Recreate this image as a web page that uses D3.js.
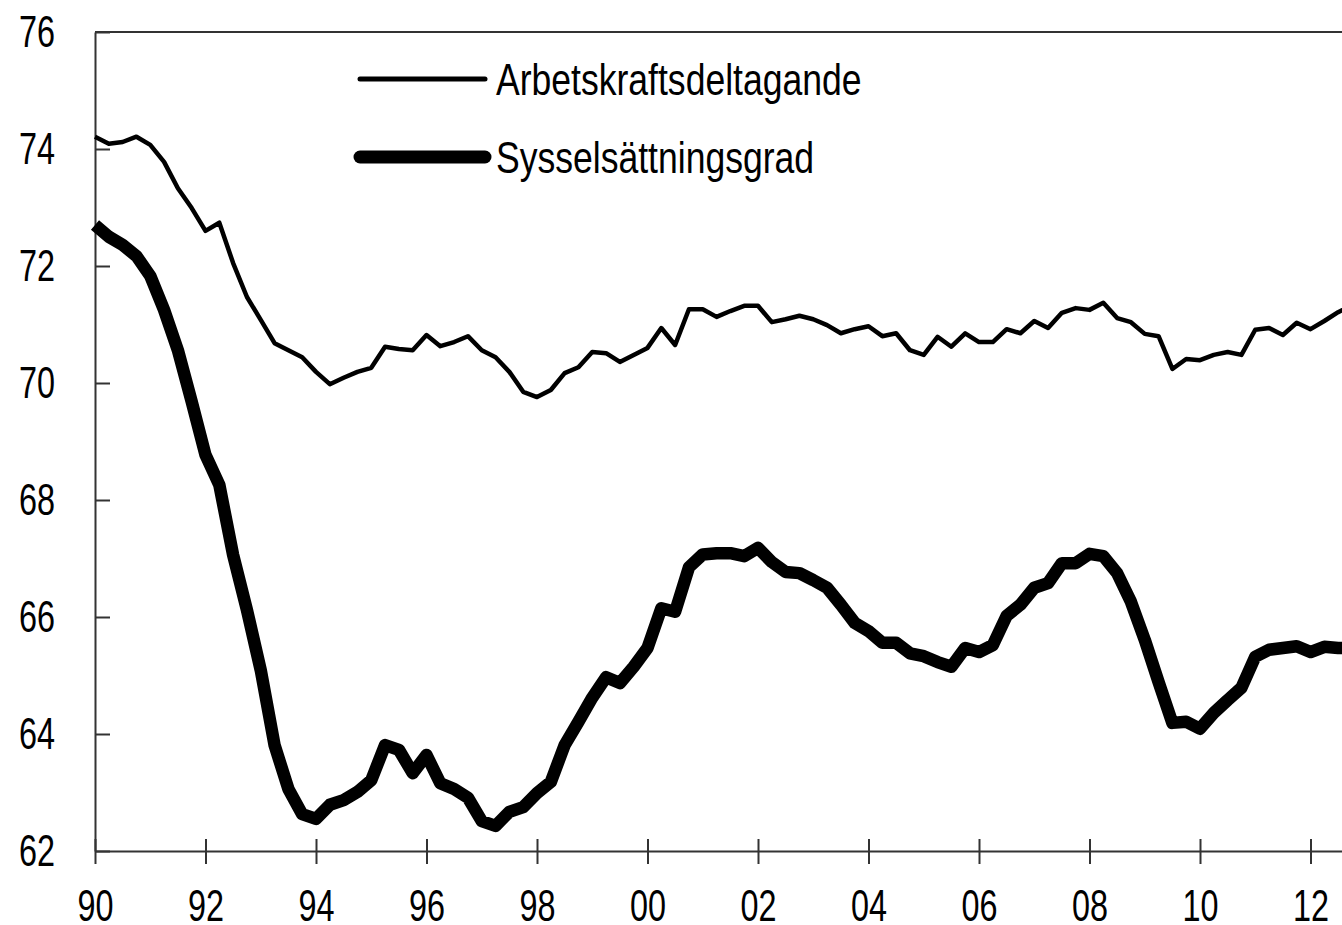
<!DOCTYPE html>
<html>
<head>
<meta charset="utf-8">
<script src="https://cdnjs.cloudflare.com/ajax/libs/d3/7.8.5/d3.min.js"></script>
<style>
    body { margin: 0; background: #fff; }
    text { font-family: "Liberation Sans", Arial, sans-serif; fill: #000; }
</style>
</head>
<body>
<div id="chart"></div>
<script>
// quarterly data, first quarter 1990
var startYear = 1990;
var arbetskraft = [
    74.21, 74.09, 74.12, 74.21, 74.07, 73.78, 73.33, 72.99, 72.60, 72.74,
    72.05, 71.47, 71.08, 70.68, 70.56, 70.44, 70.19, 69.98, 70.09, 70.19,
    70.26, 70.62, 70.58, 70.56, 70.82, 70.63, 70.70, 70.80, 70.56, 70.44,
    70.19, 69.85, 69.76, 69.88, 70.17, 70.27, 70.53, 70.51, 70.36, 70.48,
    70.60, 70.94, 70.65, 71.26, 71.26, 71.13, 71.23, 71.32, 71.32, 71.04,
    71.09, 71.15, 71.09, 70.99, 70.85, 70.92, 70.97, 70.80, 70.85, 70.56,
    70.48, 70.79, 70.62, 70.85, 70.70, 70.70, 70.92, 70.85, 71.06, 70.94,
    71.20, 71.28, 71.25, 71.37, 71.11, 71.04, 70.84, 70.80, 70.24, 70.41,
    70.39, 70.48, 70.53, 70.48, 70.91, 70.94, 70.82, 71.03, 70.92, 71.06,
    71.21, 71.33
];
var sysselsattning = [
    72.70, 72.50, 72.36, 72.17, 71.83, 71.25, 70.56, 69.68, 68.77, 68.26,
    67.06, 66.12, 65.09, 63.81, 63.06, 62.63, 62.55, 62.79, 62.87, 63.01,
    63.21, 63.81, 63.73, 63.33, 63.64, 63.16, 63.06, 62.91, 62.51, 62.43,
    62.67, 62.75, 62.99, 63.18, 63.81, 64.21, 64.62, 64.97, 64.87, 65.15,
    65.47, 66.15, 66.09, 66.85, 67.07, 67.09, 67.09, 67.04, 67.18, 66.94,
    66.77, 66.75, 66.63, 66.50, 66.21, 65.90, 65.76, 65.56, 65.56, 65.38,
    65.33, 65.23, 65.15, 65.47, 65.40, 65.52, 66.02, 66.21, 66.50, 66.58,
    66.92, 66.92, 67.08, 67.04, 66.75, 66.26, 65.61, 64.89, 64.19, 64.21,
    64.09, 64.36, 64.58, 64.79, 65.32, 65.44, 65.47, 65.50, 65.40, 65.49,
    65.47, 65.47
];
var xTicks = [1990, 1992, 1994, 1996, 1998, 2000, 2002, 2004, 2006, 2008, 2010, 2012];
var yTicks = [62, 64, 66, 68, 70, 72, 74, 76];
var seriesNames = ["Arbetskraftsdeltagande", "Sysselsättningsgrad"];
var seriesWidths = [4.5, 12.5];

var width = 1342, height = 925;
var margin = {left: 95, top: 32, bottom: 74};
var narrowAxis = 0.72, narrowLegend = 0.79;   // no condensed font installed, squeeze text

var svg = d3.select("#chart").append("svg")
    .attr("width", width)
    .attr("height", height);

var x = d3.scaleLinear()
    .domain([1990, 2013])
    .range([margin.left, margin.left + 23 * 55.25]);

var y = d3.scaleLinear()
    .domain([62, 76])
    .range([height - margin.bottom, margin.top]);

// top frame line
svg.append("line")
    .attr("x1", x(1990)).attr("x2", x(2013))
    .attr("y1", y(76)).attr("y2", y(76))
    .style("stroke", "#333")
    .style("stroke-width", 2);

var yAxis = d3.axisLeft(y)
    .tickValues(yTicks)
    .tickSizeInner(-15)
    .tickSizeOuter(0)
    .tickPadding(40);

var gy = svg.append("g")
    .attr("transform", "translate(" + x(1990) + ",0)")
    .call(yAxis);
gy.selectAll("text")
    .attr("x", -40 / narrowAxis);

var xAxis = d3.axisBottom(x)
    .tickValues(xTicks)
    .tickSizeInner(13)
    .tickSizeOuter(0)
    .tickPadding(25)
    .tickFormat(function (d) { return d3.format("02d")(d % 100); });

var gx = svg.append("g")
    .attr("transform", "translate(0," + y(62) + ")")
    .call(xAxis);
gx.selectAll(".tick line").attr("y1", -12);

[gx, gy].forEach(function (g) {
    g.select(".domain").style("stroke", "#333").style("stroke-width", 2);
    g.selectAll(".tick line").style("stroke", "#333").style("stroke-width", 2);
    g.selectAll("text")
        .attr("transform", "scale(" + narrowAxis + ",1)")
        .style("font-size", "45px")
        .style("fill", "#000");
});

function lineFor(values) {
    return d3.line()
        .x(function (d, i) { return x(startYear + i / 4); })
        .y(function (d) { return y(d); })(values);
}

[arbetskraft, sysselsattning].forEach(function (values, k) {
    svg.append("path")
        .attr("d", lineFor(values))
        .style("fill", "none")
        .style("stroke", "#000")
        .style("stroke-width", seriesWidths[k])
        .style("stroke-linejoin", "round");
});

// legend
var legend = svg.selectAll(".legend")
    .data(seriesNames)
    .enter().append("g")
    .attr("class", "legend")
    .attr("transform", function (d, i) { return "translate(360," + (79 + i * 78) + ")"; });

legend.append("line")
    .attr("x1", 0).attr("x2", 125)
    .style("stroke", "#000")
    .style("stroke-linecap", "round")
    .style("stroke-width", function (d, i) { return seriesWidths[i] + 0.5; });

legend.append("text")
    .attr("transform", "translate(136,0) scale(" + narrowLegend + ",1)")
    .attr("dy", "0.36em")
    .style("font-size", "45px")
    .text(function (d) { return d; });
</script>
</body>
</html>
